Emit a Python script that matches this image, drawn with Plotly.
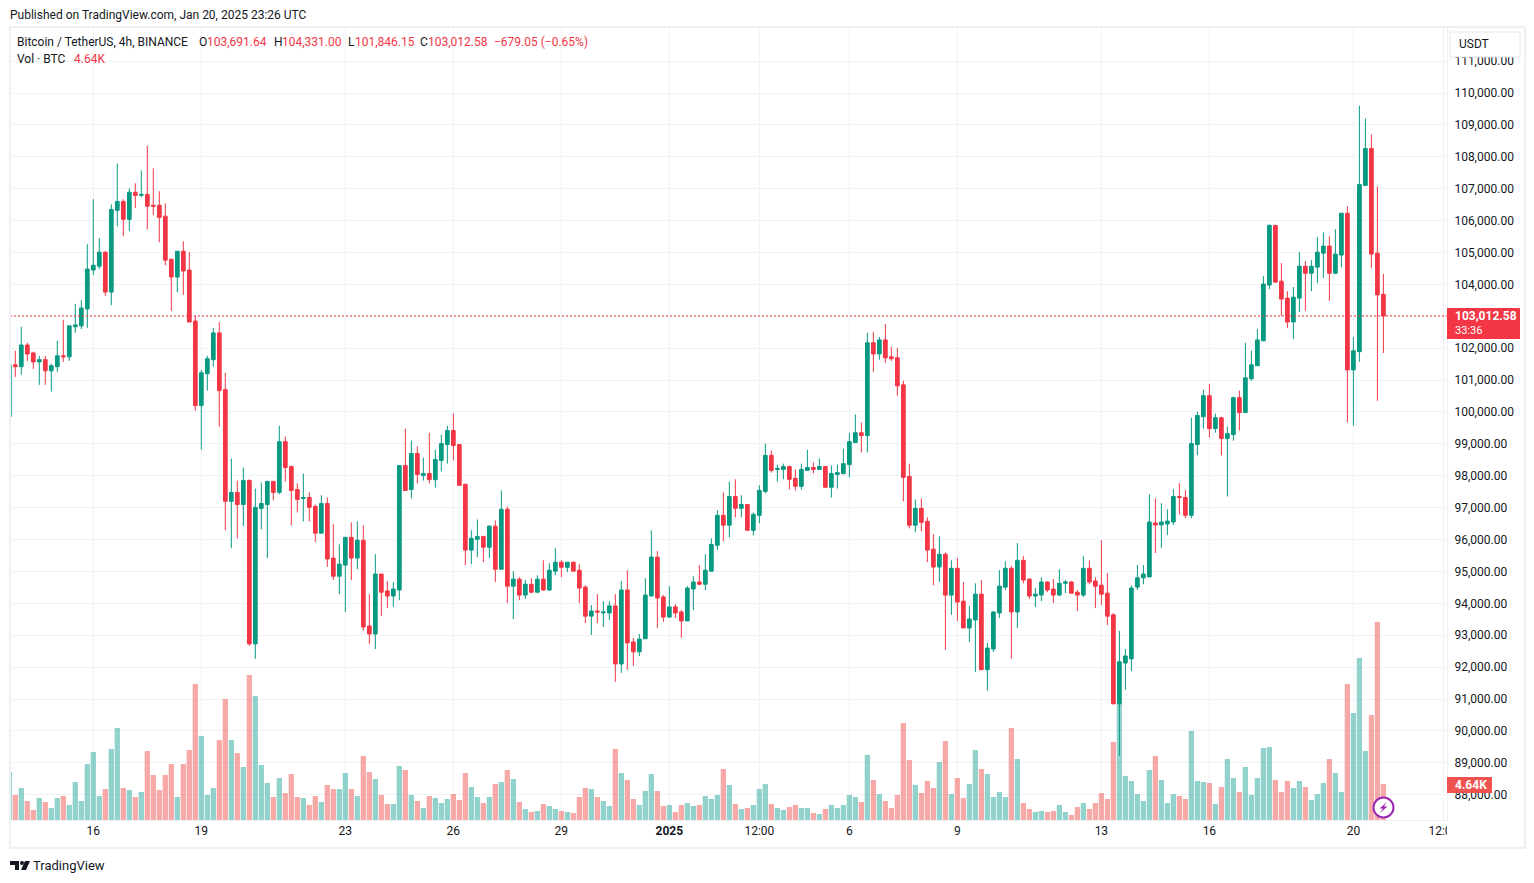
from __future__ import annotations

import pandas as pd
import plotly.graph_objects as go

UP = "#089981"
DOWN = "#f23645"
TEXT = "#131722"
GRID = "#f1f2f6"
FRAME = "#eef0f5"
FONT = "Roboto"

# the page keeps its 8px body margin, so the figure is 8px smaller each way
PAGE_MARGIN = 8
WIDTH, HEIGHT = 1534 - PAGE_MARGIN, 883 - PAGE_MARGIN
PLOT_LEFT, PLOT_RIGHT, PLOT_TOP, PLOT_BOTTOM = 10, 1447, 27, 820

# 4h candles, thousands of USDT
opens = [
    99.85, 101.48, 101.42, 102.10, 101.85, 101.57, 101.64, 101.29, 101.42, 101.76,
    101.73, 102.67, 102.70, 103.23, 104.45, 104.57, 105.01, 103.76, 106.32, 106.60,
    106.04, 106.89, 106.79, 106.82, 106.48, 106.48, 106.14, 104.79, 104.23, 105.04,
    104.45, 102.85, 100.20, 101.20, 101.64, 102.48, 100.70, 97.20, 97.48, 97.10,
    97.85, 92.73, 96.98, 97.10, 97.82, 97.48, 99.07, 98.29, 97.57, 97.29,
    97.32, 97.04, 96.20, 97.13, 95.42, 94.85, 95.20, 96.07, 95.42, 95.98,
    93.29, 93.04, 94.92, 94.39, 94.23, 94.42, 98.32, 97.57, 98.70, 98.01,
    98.07, 97.88, 98.48, 98.98, 99.42, 98.98, 97.73, 95.67, 96.01, 96.10,
    95.76, 96.42, 95.07, 96.95, 94.54, 94.76, 94.26, 94.60, 94.35, 94.76,
    94.42, 95.01, 95.29, 95.13, 95.29, 95.04, 94.51, 93.60, 93.76, 93.70,
    93.70, 93.92, 92.10, 94.42, 92.79, 92.48, 92.89, 94.23, 95.45, 94.20,
    93.57, 93.89, 93.73, 93.45, 94.45, 94.67, 94.60, 95.01, 95.82, 96.76,
    96.45, 97.35, 96.98, 97.10, 96.29, 96.76, 97.51, 98.64, 98.20, 98.20,
    98.29, 97.92, 97.67, 98.17, 98.26, 98.20, 98.29, 97.64, 98.04, 98.07,
    98.35, 99.04, 99.35, 99.26, 102.17, 101.82, 102.26, 101.73, 101.70, 100.85,
    97.98, 96.45, 96.98, 96.57, 95.70, 95.14, 95.54, 94.26, 95.10, 94.07,
    93.23, 93.48, 94.29, 91.92, 92.57, 93.70, 94.51, 95.10, 93.73, 95.35,
    94.76, 94.23, 94.26, 94.67, 94.45, 94.26, 94.63, 94.67, 94.35, 94.26,
    95.10, 94.70, 94.57, 94.32, 93.64, 90.85, 92.13, 92.26, 94.51, 94.80,
    94.83, 96.52, 96.46, 96.49, 96.55, 97.35, 97.32, 96.76, 98.98, 99.85,
    100.51, 99.48, 99.82, 99.17, 99.29, 100.45, 99.98, 101.04, 101.45, 102.23,
    103.98, 105.85, 104.10, 103.57, 102.82, 103.57, 104.57, 104.35, 104.54, 104.98,
    105.20, 104.35, 104.92, 106.23, 101.32, 101.89, 107.10, 108.26, 104.98, 103.69,
]
highs = [
    101.48, 101.92, 102.67, 102.17, 101.89, 101.76, 101.76, 101.51, 102.23, 102.89,
    102.70, 103.39, 103.51, 105.26, 106.67, 105.45, 105.04, 106.51, 107.79, 106.67,
    107.01, 107.17, 107.57, 108.35, 107.64, 106.92, 106.54, 104.79, 105.04, 105.35,
    105.01, 103.01, 101.32, 101.76, 102.64, 102.82, 101.23, 98.54, 97.85, 98.26,
    97.89, 97.60, 97.79, 97.85, 97.85, 99.57, 99.23, 98.32, 97.76, 98.07,
    97.48, 97.10, 97.39, 97.32, 96.48, 95.85, 96.07, 96.54, 96.57, 96.45,
    94.29, 95.54, 94.92, 94.70, 94.67, 98.32, 99.48, 99.10, 98.92, 98.57,
    99.35, 98.82, 99.29, 99.57, 99.95, 98.98, 97.76, 96.29, 96.63, 96.10,
    96.45, 96.60, 97.54, 97.04, 95.01, 94.82, 94.73, 94.79, 94.88, 95.35,
    95.26, 95.73, 95.35, 95.29, 95.32, 95.23, 94.57, 93.95, 94.29, 94.07,
    94.07, 94.29, 94.70, 95.04, 92.92, 93.04, 94.79, 96.29, 95.64, 94.26,
    94.54, 93.98, 93.79, 94.54, 94.85, 95.20, 95.54, 96.04, 96.92, 97.48,
    97.82, 97.89, 97.39, 97.10, 96.85, 97.70, 99.01, 98.79, 98.35, 98.38,
    98.32, 98.20, 98.38, 98.82, 98.42, 98.54, 98.29, 98.32, 98.35, 98.85,
    99.35, 99.92, 99.67, 102.48, 102.51, 102.35, 102.76, 102.04, 102.01, 100.98,
    98.38, 97.26, 97.29, 96.70, 96.17, 96.10, 95.60, 95.35, 95.42, 94.67,
    93.92, 94.63, 94.73, 92.76, 93.76, 95.04, 95.32, 95.17, 95.89, 95.48,
    94.79, 94.48, 94.82, 94.70, 94.76, 95.07, 94.73, 94.70, 94.42, 95.48,
    95.35, 94.82, 95.98, 94.95, 93.70, 93.14, 92.57, 94.57, 95.20, 95.20,
    97.42, 97.29, 97.14, 96.95, 97.58, 97.77, 97.55, 99.82, 100.01, 100.70,
    100.88, 99.95, 99.85, 99.54, 100.48, 100.67, 102.17, 101.92, 102.60, 104.26,
    105.88, 105.85, 104.67, 103.79, 103.92, 105.01, 104.73, 104.76, 105.48, 105.63,
    105.51, 105.73, 106.23, 106.45, 102.35, 109.60, 109.20, 108.70, 107.07, 104.33,
]
lows = [
    99.85, 101.10, 101.17, 101.60, 101.35, 100.85, 100.85, 100.64, 101.26, 101.57,
    101.60, 102.48, 102.60, 102.64, 104.29, 104.48, 103.64, 103.35, 105.82, 105.51,
    105.67, 106.39, 106.73, 105.73, 106.17, 105.32, 104.60, 103.17, 103.76, 103.67,
    102.82, 100.04, 98.82, 100.67, 101.42, 99.54, 96.29, 95.73, 96.04, 96.42,
    92.67, 92.26, 96.32, 95.42, 97.23, 97.42, 97.82, 96.45, 96.85, 96.57,
    96.57, 95.92, 96.20, 95.14, 94.73, 94.29, 93.73, 94.73, 95.07, 93.14,
    92.73, 92.57, 93.60, 93.85, 93.89, 94.10, 97.54, 97.29, 97.76, 97.85,
    97.76, 97.63, 98.13, 98.38, 98.48, 97.70, 95.20, 95.23, 95.45, 95.29,
    95.42, 94.67, 95.07, 94.01, 93.51, 94.10, 94.14, 94.32, 94.32, 94.39,
    94.39, 94.88, 94.82, 94.98, 95.01, 94.01, 93.38, 93.01, 93.38, 93.26,
    93.48, 91.54, 91.82, 91.92, 92.04, 92.35, 92.89, 94.23, 93.23, 93.42,
    93.54, 93.54, 92.92, 93.45, 93.79, 94.57, 94.42, 95.01, 95.67, 95.95,
    96.07, 96.70, 96.70, 96.29, 96.13, 96.51, 97.45, 98.10, 97.82, 97.89,
    97.57, 97.54, 97.57, 98.17, 98.07, 98.20, 97.64, 97.32, 97.60, 98.04,
    97.95, 99.04, 98.73, 98.73, 101.26, 101.64, 101.54, 101.60, 100.51, 97.20,
    96.35, 96.23, 96.26, 95.29, 94.57, 94.67, 92.54, 93.64, 93.45, 93.23,
    92.79, 91.85, 91.92, 91.26, 92.48, 93.54, 94.42, 92.26, 93.23, 94.63,
    94.14, 93.89, 94.07, 94.35, 94.01, 94.23, 94.32, 94.32, 93.76, 94.20,
    94.60, 93.85, 93.95, 93.32, 90.85, 89.22, 91.29, 91.88, 94.42, 94.60,
    94.83, 95.58, 95.74, 96.14, 96.46, 96.79, 96.67, 96.67, 98.64, 99.48,
    99.20, 99.35, 98.64, 97.35, 99.10, 99.42, 99.98, 100.98, 101.45, 102.23,
    103.85, 104.07, 103.01, 102.63, 102.29, 103.13, 103.17, 103.79, 104.04, 104.20,
    103.48, 104.32, 104.54, 99.67, 99.57, 101.57, 107.10, 104.51, 100.35, 101.85,
]
closes = [
    101.48, 101.42, 102.10, 101.82, 101.57, 101.64, 101.29, 101.45, 101.76, 101.73,
    102.70, 102.73, 103.26, 104.48, 104.60, 105.01, 103.76, 106.35, 106.60, 106.04,
    106.89, 106.79, 106.82, 106.45, 106.45, 106.10, 104.76, 104.23, 105.04, 104.42,
    102.82, 100.20, 101.23, 101.67, 102.48, 100.67, 97.20, 97.48, 97.10, 97.85,
    92.73, 97.01, 97.13, 97.82, 97.48, 99.07, 98.26, 97.54, 97.26, 97.32,
    97.01, 96.20, 97.13, 95.39, 94.85, 95.23, 96.07, 95.42, 95.98, 93.26,
    93.04, 94.92, 94.35, 94.23, 94.45, 98.32, 97.54, 98.70, 98.04, 98.07,
    97.88, 98.51, 99.01, 99.42, 98.95, 97.70, 95.67, 96.04, 96.10, 95.76,
    96.42, 95.07, 96.95, 94.54, 94.76, 94.26, 94.60, 94.35, 94.76, 94.42,
    95.04, 95.29, 95.13, 95.29, 95.01, 94.48, 93.60, 93.76, 93.73, 93.73,
    93.92, 92.10, 94.42, 92.76, 92.48, 92.88, 94.26, 95.45, 94.17, 93.57,
    93.89, 93.70, 93.45, 94.48, 94.67, 94.60, 95.04, 95.85, 96.76, 96.45,
    97.35, 96.98, 97.10, 96.29, 96.79, 97.54, 98.64, 98.17, 98.23, 98.29,
    97.89, 97.67, 98.20, 98.26, 98.20, 98.29, 97.64, 98.07, 98.10, 98.38,
    99.07, 99.35, 99.26, 102.17, 101.82, 102.26, 101.70, 101.67, 100.82, 97.95,
    96.45, 96.98, 96.54, 95.67, 95.14, 95.54, 94.26, 95.10, 94.04, 93.23,
    93.51, 94.29, 91.92, 92.60, 93.73, 94.54, 95.10, 93.73, 95.35, 94.73,
    94.23, 94.29, 94.67, 94.42, 94.26, 94.63, 94.67, 94.32, 94.26, 95.10,
    94.67, 94.54, 94.29, 93.60, 90.85, 92.17, 92.35, 94.48, 94.80, 94.92,
    96.55, 96.46, 96.55, 96.58, 97.35, 97.32, 96.76, 99.01, 99.89, 100.51,
    99.48, 99.82, 99.17, 99.32, 100.45, 99.98, 101.07, 101.48, 102.26, 104.01,
    105.85, 104.07, 103.54, 102.82, 103.60, 104.57, 104.35, 104.57, 105.01, 105.20,
    104.35, 104.95, 106.23, 101.32, 101.92, 107.13, 108.26, 104.95, 103.67, 103.01,
]
# thousands of BTC
volumes = [
    6.19, 3.23, 4.13, 2.45, 1.29, 2.84, 2.32, 1.55, 2.84, 3.10,
    1.94, 4.90, 2.45, 7.22, 8.77, 3.10, 4.00, 9.16, 11.87, 4.13,
    3.87, 2.97, 3.61, 8.90, 5.81, 3.87, 5.81, 7.22, 2.97, 7.22,
    9.03, 17.54, 10.84, 3.23, 4.13, 10.32, 15.61, 10.32, 8.64, 6.84,
    18.71, 16.00, 7.10, 4.77, 2.97, 5.42, 3.48, 5.93, 2.97, 2.84,
    1.94, 3.10, 2.32, 4.52, 4.00, 4.00, 6.06, 4.00, 3.10, 8.26,
    6.19, 5.29, 3.23, 2.06, 2.06, 6.97, 6.45, 3.23, 2.45, 1.55,
    3.10, 2.84, 2.19, 2.71, 3.35, 2.58, 6.06, 4.26, 2.97, 2.19,
    2.97, 4.64, 4.90, 6.45, 5.29, 2.32, 1.42, 1.03, 1.16, 2.06,
    1.81, 1.42, 1.16, 1.03, 0.90, 2.97, 4.13, 4.00, 2.97, 2.45,
    1.81, 9.16, 6.06, 5.16, 2.71, 1.94, 3.74, 5.93, 3.74, 1.81,
    1.94, 1.03, 1.94, 2.19, 1.81, 1.94, 3.10, 2.71, 3.23, 6.58,
    4.52, 2.06, 1.42, 1.55, 1.94, 4.00, 4.64, 2.06, 1.55, 1.29,
    1.68, 1.94, 1.55, 1.55, 0.90, 0.77, 1.42, 1.94, 1.55, 1.94,
    3.23, 2.97, 2.32, 8.39, 5.16, 3.35, 2.45, 1.55, 3.23, 12.51,
    7.74, 4.52, 3.48, 5.03, 4.13, 7.48, 10.19, 3.35, 5.42, 2.84,
    4.64, 9.03, 6.58, 5.93, 2.97, 3.61, 2.97, 11.87, 7.87, 2.19,
    1.42, 1.03, 1.16, 1.03, 1.16, 1.94, 1.03, 0.65, 1.68, 2.19,
    1.42, 2.19, 3.48, 2.71, 10.06, 15.22, 5.68, 5.03, 3.35, 2.45,
    6.45, 8.26, 5.16, 2.19, 3.35, 3.10, 2.71, 11.48, 5.03, 4.90,
    4.77, 2.06, 4.26, 7.87, 5.42, 3.61, 6.84, 3.23, 5.42, 9.29,
    9.42, 5.16, 3.61, 5.03, 4.13, 5.03, 4.26, 2.58, 3.35, 4.77,
    7.87, 6.06, 3.61, 17.54, 13.80, 20.90, 8.90, 13.55, 25.54, 4.64,
]

time_ticks = [
    "2024-12-16", "2024-12-19", "2024-12-23", "2024-12-26", "2024-12-29", "2025-01-01", "2025-01-03 12:00",
    "2025-01-06", "2025-01-09", "2025-01-13", "2025-01-16", "2025-01-20", "2025-01-22 12:00",
]
time_labels = ["16", "19", "23", "26", "29", "<b>2025</b>", "12:00", "6", "9", "13", "16", "20", "12:00"]
price_ticks = [p * 1000 for p in range(88, 112)]

last_price = 103012.58


def paper_x(px: float) -> float:
    return (px - PLOT_LEFT) / (PLOT_RIGHT - PLOT_LEFT)


def paper_y(py: float) -> float:
    return (PLOT_BOTTOM - py) / (PLOT_BOTTOM - PLOT_TOP)


def px_rect(x0, y0, x1, y1, **kwargs) -> dict:
    return dict(
        type="rect", xref="paper", yref="paper",
        x0=paper_x(x0), x1=paper_x(x1), y0=paper_y(y0), y1=paper_y(y1), **kwargs,
    )


def px_path(points, **kwargs) -> dict:
    cmds = [("M" if i == 0 else "L") + f"{paper_x(x):.5f},{paper_y(y):.5f}" for i, (x, y) in enumerate(points)]
    return dict(type="path", xref="paper", yref="paper", path=" ".join(cmds) + " Z", **kwargs)


def px_text(x, y, text, color=TEXT, size=12, anchor="left") -> dict:
    # annotations carry about 2px of padding of their own
    return dict(
        x=paper_x(x - 2), y=paper_y(y), xref="paper", yref="paper", text=text, showarrow=False,
        xanchor=anchor, yanchor="middle", align=anchor, font=dict(family=FONT, size=size, color=color),
    )


dates = pd.date_range("2024-12-13 16:00", periods=len(opens), freq="4h")
bar_colors = ["rgba(38,166,154,0.5)" if c >= o else "rgba(239,83,80,0.5)" for o, c in zip(opens, closes)]

fig = go.Figure()
fig.add_trace(go.Bar(x=dates, y=[v * 1000 for v in volumes], marker=dict(color=bar_colors, line_width=0), yaxis="y"))
fig.add_trace(
    go.Candlestick(
        x=dates,
        open=[v * 1000 for v in opens],
        high=[v * 1000 for v in highs],
        low=[v * 1000 for v in lows],
        close=[v * 1000 for v in closes],
        increasing=dict(line=dict(color=UP, width=1), fillcolor=UP),
        decreasing=dict(line=dict(color=DOWN, width=1), fillcolor=DOWN),
        yaxis="y2",
    )
)

shapes = [
    # last price line
    dict(type="line", xref="paper", yref="y2", x0=0, x1=1, y0=last_price, y1=last_price,
         line=dict(color=DOWN, width=1, dash="2px,2px")),
    # time scale end, outer frame
    px_rect(PLOT_RIGHT, PLOT_BOTTOM + 1, 1524, 847, fillcolor="white", line_width=0),
    px_rect(10, 27, 1525, 848, line=dict(color=FRAME, width=2)),
    # USDT button
    px_rect(1450, 32, 1520, 57, fillcolor="white", line=dict(color="#e4e6ee", width=1)),
    # badges
    px_rect(1447, 308, 1520, 339, fillcolor=DOWN, line_width=0),
    px_rect(1447, 777, 1492, 793, fillcolor="#ef5350", line_width=0),
    # bolt button
    dict(type="circle", xref="paper", yref="paper", x0=paper_x(1373.5), x1=paper_x(1393.5),
         y0=paper_y(817.5), y1=paper_y(797.5), fillcolor="white", line=dict(color="#9c27b0", width=2)),
    px_path([(1387, 802), (1379.5, 808.5), (1383, 808.5), (1380, 813), (1387.5, 806.5), (1384, 806.5)],
            fillcolor="#9c27b0", line_width=0),
    # TradingView mark
    px_path([(10, 861), (19, 861), (19, 870), (15, 870), (15, 865), (10, 865)], fillcolor=TEXT, line_width=0),
    dict(type="circle", xref="paper", yref="paper", x0=paper_x(20), x1=paper_x(24),
         y0=paper_y(865), y1=paper_y(861), fillcolor=TEXT, line_width=0),
    px_path([(25, 861), (30, 861), (26, 870), (21, 870)], fillcolor=TEXT, line_width=0),
]

annotations = [
    px_text(10, 15, "Published on TradingView.com, Jan 20, 2025 23:26 UTC"),
    px_text(17, 42, "Bitcoin / TetherUS, 4h, BINANCE"),
    px_text(199, 42, "O"),
    px_text(207, 42, "103,691.64", DOWN),
    px_text(274, 42, "H"),
    px_text(282, 42, "104,331.00", DOWN),
    px_text(348, 42, "L"),
    px_text(355, 42, "101,846.15", DOWN),
    px_text(420, 42, "C"),
    px_text(428, 42, "103,012.58", DOWN),
    px_text(494, 42, "−679.05 (−0.65%)", DOWN),
    px_text(17, 59, "Vol · BTC"),
    px_text(74, 59, "4.64K", DOWN),
    px_text(1459, 44, "USDT"),
    px_text(1455, 316, "<b>103,012.58</b>", "white"),
    px_text(1455, 330, "33:36", "white", 11),
    px_text(1455, 785, "<b>4.64K</b>", "white"),
    px_text(33, 865, "TradingView", TEXT, 13),
]

fig.update_layout(
    width=WIDTH,
    height=HEIGHT,
    margin=dict(
        l=PLOT_LEFT - PAGE_MARGIN,
        r=WIDTH + PAGE_MARGIN - PLOT_RIGHT,
        t=PLOT_TOP - PAGE_MARGIN,
        b=HEIGHT + PAGE_MARGIN - PLOT_BOTTOM,
        pad=0,
        autoexpand=False,
    ),
    paper_bgcolor="white",
    plot_bgcolor="white",
    showlegend=False,
    bargap=0.12,
    boxgap=0.12,
    font=dict(family=FONT, size=12, color=TEXT),
    shapes=shapes,
    annotations=annotations,
    xaxis=dict(
        range=["2024-12-13 16:28", "2025-01-22 14:24"],
        rangeslider=dict(visible=False),
        tickmode="array",
        tickvals=time_ticks,
        ticktext=time_labels,
        tickangle=0,
        showgrid=True,
        gridcolor=GRID,
        gridwidth=1,
        showline=True,
        linecolor=FRAME,
        ticks="",
        zeroline=False,
    ),
    yaxis=dict(range=[0, 102300], visible=False, showgrid=False, zeroline=False),
    yaxis2=dict(
        range=[87209, 112069],
        overlaying="y",
        side="right",
        tickmode="array",
        tickvals=price_ticks,
        tickformat=",.2f",
        showgrid=True,
        gridcolor=GRID,
        gridwidth=1,
        showline=True,
        linecolor=FRAME,
        ticks="outside",
        ticklen=4,
        tickcolor="rgba(0,0,0,0)",
        zeroline=False,
    ),
)

fig.write_html("out.html")
